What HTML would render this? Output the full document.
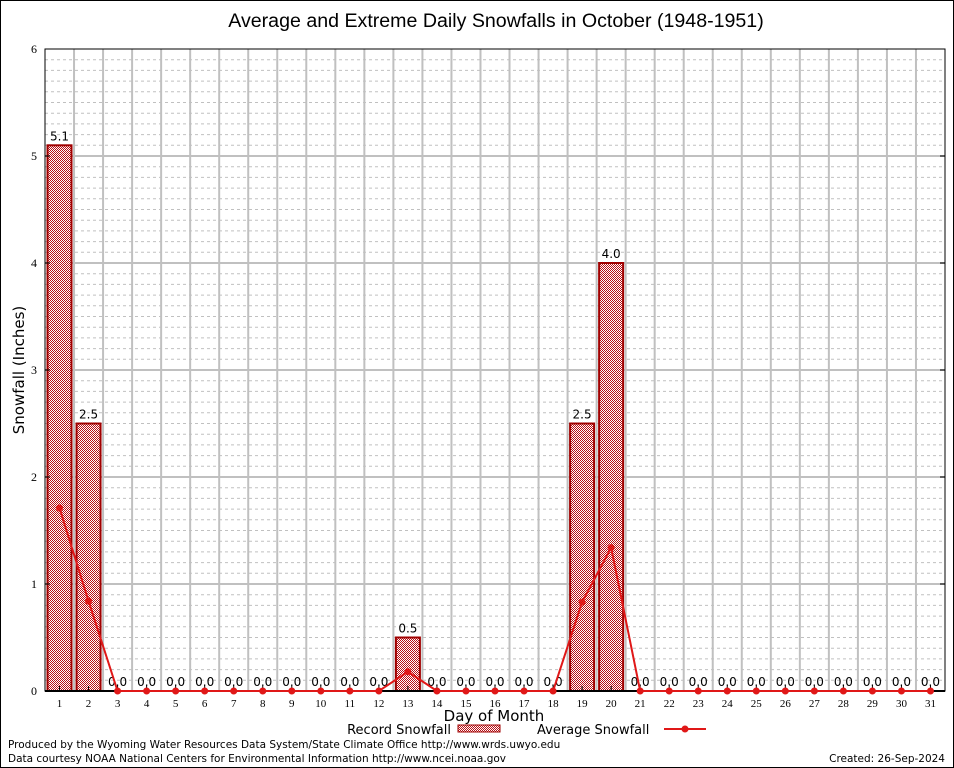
<!DOCTYPE html>
<html><head><meta charset="utf-8"><style>
html,body{margin:0;padding:0;background:#fff;}
svg{display:block;font-family:"DejaVu Sans",sans-serif;}
</style></head><body>
<svg id="chart" width="954" height="768" viewBox="0 0 954 768" xmlns="http://www.w3.org/2000/svg">
<defs>
<pattern id="chk" width="2" height="2" patternUnits="userSpaceOnUse">
<rect width="2" height="2" fill="#fff"/>
<rect width="1" height="1" fill="#b81016"/><rect x="1" y="1" width="1" height="1" fill="#b81016"/>
</pattern>
</defs>
<rect x="0.5" y="0.5" width="953" height="767" fill="#fff" stroke="#000"/>
<text x="496" y="27" font-size="19.6" text-anchor="middle" font-family="Liberation Sans, sans-serif">Average and Extreme Daily Snowfalls in October (1948-1951)</text>
<g id="grid"></g>
<g id="bars"></g>
<g id="line"></g>
<g id="axes"></g>
<text transform="translate(24,370) rotate(-90)" font-size="15" text-anchor="middle">Snowfall (Inches)</text>
<text x="494" y="721" font-size="15" text-anchor="middle">Day of Month</text>
<g>
<text x="451" y="734" font-size="13" text-anchor="end">Record Snowfall</text>
<rect x="458" y="725" width="42" height="7" fill="url(#chk)" stroke="#a00000"/>
</g>
<g>
<text x="537" y="734" font-size="13">Average Snowfall</text>
<line x1="664" y1="729" x2="706" y2="729" stroke="#e01818" stroke-width="2"/>
<circle cx="685" cy="729" r="3.5" fill="#e01818"/>
</g>
<text x="8" y="748" font-size="10.5">Produced by the Wyoming Water Resources Data System/State Climate Office http://www.wrds.uwyo.edu</text>
<text x="8" y="762" font-size="10.5">Data courtesy NOAA National Centers for Environmental Information http://www.ncei.noaa.gov</text>
<text x="945" y="762" font-size="10.5" text-anchor="end">Created:  26-Sep-2024</text>
</svg>
<script>
const days=[1,2,3,4,5,6,7,8,9,10,11,12,13,14,15,16,17,18,19,20,21,22,23,24,25,26,27,28,29,30,31];
const records=[5.1,2.5,0,0,0,0,0,0,0,0,0,0,0.5,0,0,0,0,0,2.5,4.0,0,0,0,0,0,0,0,0,0,0,0];
const averages=[1.71,0.84,0,0,0,0,0,0,0,0,0,0,0.18,0,0,0,0,0,0.83,1.34,0,0,0,0,0,0,0,0,0,0,0];
const yTicks=[0,1,2,3,4,5,6];
const L=45,R=945,T=49,B=691,ymax=6;
const slot=(R-L)/days.length;
const xc=i=>L+slot*(i+0.5);
const y=v=>B-(B-T)*v/ymax;
const NS="http://www.w3.org/2000/svg";
function mk(tag,attrs,parent){const e=document.createElementNS(NS,tag);for(const k in attrs)e.setAttribute(k,attrs[k]);parent.appendChild(e);return e;}
const grid=document.getElementById('grid'),bars=document.getElementById('bars'),line=document.getElementById('line'),axes=document.getElementById('axes');
for(let k=1;k<ymax*10;k++){if(k%10===0)continue;const g=mk('line',{x1:L,x2:R,y1:y(k/10),y2:y(k/10),stroke:'#c0c0c0','stroke-dasharray':'3,3','stroke-width':1},grid);}
for(let i=1;i<days.length;i++){const g=mk('line',{x1:L+slot*i,x2:L+slot*i,y1:T,y2:B,stroke:'#c0c0c0','stroke-width':2},grid);}
yTicks.forEach(v=>{if(v>0&&v<ymax){const g=mk('line',{x1:L,x2:R,y1:y(v),y2:y(v),stroke:'#c0c0c0','stroke-width':2},grid);}
const t=mk('text',{x:L-8,y:y(v)+4,'font-size':12,'text-anchor':'end','font-family':'Liberation Serif, serif'},axes);t.textContent=v;
mk('line',{x1:L,x2:L+5,y1:y(v),y2:y(v),stroke:'#000'},axes);mk('line',{x1:R-5,x2:R,y1:y(v),y2:y(v),stroke:'#000'},axes);});
const bw=24;
records.forEach((v,i)=>{
if(v>0){const b=mk('rect',{x:xc(i)-bw/2,y:y(v),width:bw,height:B-y(v),fill:'url(#chk)',stroke:'#a00000','stroke-width':2},bars);}
const t=mk('text',{x:xc(i),y:y(v)-5,'font-size':12,'text-anchor':'middle'},bars);t.textContent=v.toFixed(1);
const xl=mk('text',{x:xc(i),y:B+16,'font-size':11,'text-anchor':'middle','font-family':'Liberation Serif, serif'},axes);xl.textContent=days[i];
mk('line',{x1:xc(i),x2:xc(i),y1:B,y2:B-5,stroke:'#000'},axes);
});
const fr=mk('rect',{x:L,y:T,width:R-L,height:B-T,fill:'none',stroke:'#000','stroke-width':1},axes);
const xa=mk('line',{x1:L,x2:R,y1:B,y2:B,stroke:'#000','stroke-width':2},axes);
const pl=mk('polyline',{points:averages.map((v,i)=>xc(i)+','+y(v)).join(' '),fill:'none',stroke:'#e01818','stroke-width':2},line);

averages.forEach((v,i)=>{const c=mk('circle',{cx:xc(i),cy:y(v),r:3.5,fill:'#e01818'},line);});
document.getElementById('chart').appendChild(line);
</script>
</body></html>
